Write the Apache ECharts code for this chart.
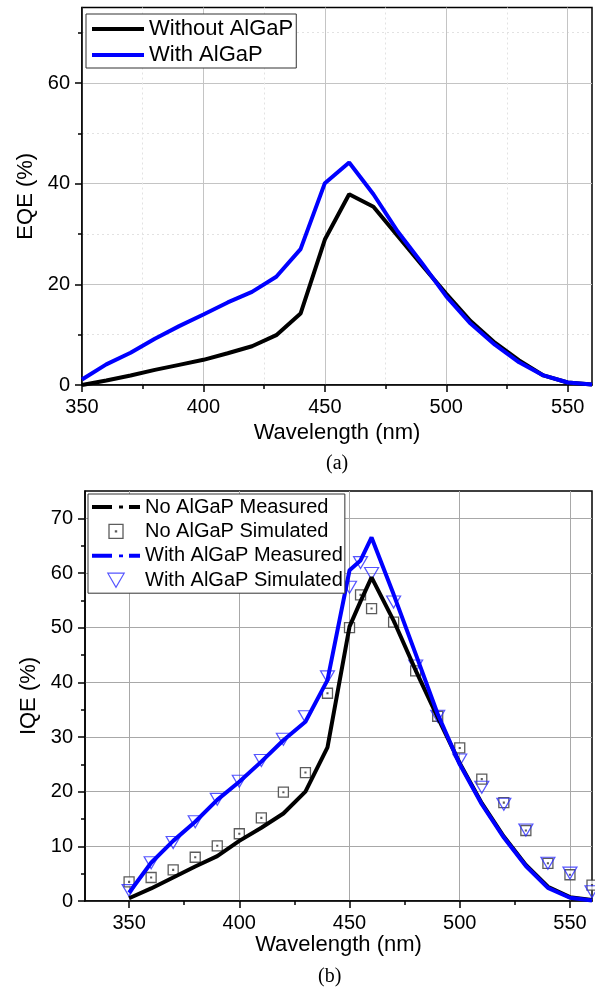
<!DOCTYPE html>
<html>
<head>
<meta charset="utf-8">
<script src="https://cdn.jsdelivr.net/npm/echarts@6/dist/echarts.min.js"></script>
<style>
html,body{margin:0;padding:0;background:#fff;}
#chart{width:595px;height:998px;}
</style>
</head>
<body>
<div id="chart"></div>
<script>
// ---- (a) EQE data ----
const eqeWl = [350,360,370,380,390,400,410,420,430,440,450,460,470,480,490,500,510,520,530,540,550,560];
const eqeWithout = [0,0.9,1.9,3.0,4.0,5.0,6.3,7.7,9.9,14.2,28.9,37.9,35.4,29.6,23.8,18.1,12.7,8.4,4.9,1.9,0.5,0.1];
const eqeWith = [1.1,4.1,6.4,9.2,11.7,14.0,16.4,18.5,21.5,27.0,40.1,44.2,37.9,30.5,24.2,17.6,12.2,8.0,4.5,1.9,0.5,0.1];
const eqeXTicks = [350,400,450,500,550];
const eqeXMinor = [375,425,475,525];
const eqeYTicks = [0,20,40,60];
const eqeYMinor = [10,30,50,70];

// ---- (b) IQE data ----
const iqeWl = [350,360,370,380,390,400,410,420,430,440,450,455,460,470,480,490,500,510,520,530,540,550,560];
const iqeNoMeas = [0.5,2.3,4.3,6.3,8.2,11.0,13.4,16.0,20.0,28.1,50.2,54.8,59.2,51.3,42.2,33.6,25.2,17.9,11.8,6.6,2.6,0.7,0.2];
const iqeNoSim = [3.5,4.3,5.7,8.0,10.1,12.3,15.2,19.9,23.5,38.0,50.0,56.0,53.5,51.0,42.1,33.8,28.0,22.3,18.0,12.9,6.9,4.8,2.9];
const iqeWithMeas = [1.5,7.0,11.0,14.5,18.5,21.8,25.5,29.4,32.8,40.4,60.5,62.3,66.5,56.1,45.2,34.2,25.0,17.7,11.6,6.4,2.4,0.6,0.1];
const iqeWithSim = [1.9,7.0,10.7,14.5,18.6,21.9,25.7,29.6,33.7,41.0,57.4,61.9,59.9,54.7,43.0,33.8,25.8,20.8,17.7,13.0,6.9,5.1,1.7];
const iqeXTicks = [350,400,450,500,550];
const iqeXMinor = [375,425,475,525];
const iqeYTicks = [0,10,20,30,40,50,60,70];
const iqeYMinor = [5,15,25,35,45,55,65];

const FONT = 'Liberation Sans, Arial, sans-serif';
const pair = (xs, ys) => xs.map((x, i) => [x, ys[i]]);

const squarePath = 'path://M0,0H10V10H0Z M4.6,4.6H5.4V5.4H4.6Z';
const triPath = 'path://M0,0H14L7,12Z';
const dashDot = 'path://M0,0H20V4H0Z M27,0.6H31V3.4H27Z M37,0H48V4H37Z';

function mainAxis(gridIndex, min, max, interval, ticks, extra) {
  return Object.assign({
    type: 'value', gridIndex, min, max, interval,
    axisLine: {show: true, onZero: false, lineStyle: {color: '#000', width: 1.5}},
    axisTick: {show: true, inside: false, length: 7, customValues: ticks, lineStyle: {color: '#000', width: 1.5}},
    axisLabel: {show: true, customValues: ticks, color: '#000', fontSize: 20, fontFamily: FONT, margin: 12},
    splitLine: {show: true, lineStyle: {color: '#c4c4c4', width: 1}},
    nameLocation: 'middle',
    nameTextStyle: {color: '#000', fontSize: 22, fontFamily: FONT}
  }, extra || {});
}
function minorAxis(gridIndex, min, max, interval, ticks, position, split) {
  return {
    type: 'value', gridIndex, min, max, interval, position,
    axisLine: {show: false, onZero: false},
    axisTick: {show: true, inside: false, length: 4, customValues: ticks, lineStyle: {color: '#000', width: 1.5}},
    axisLabel: {show: false},
    splitLine: split ? {show: true, lineStyle: {color: '#e2e2e2', width: 1, type: [2, 3]}} : {show: false}
  };
}

const option = {
  animation: false,
  backgroundColor: '#fff',
  textStyle: {fontFamily: FONT},
  grid: [
    {left: 82, top: 7.5, width: 510, height: 377.5, show: true, borderColor: '#000', borderWidth: 1.5, backgroundColor: 'transparent'},
    {left: 85, top: 491, width: 507, height: 410, show: true, borderColor: '#000', borderWidth: 1.5, backgroundColor: 'transparent'}
  ],
  xAxis: [
    mainAxis(0, 350, 560, 50, eqeXTicks, {position: 'bottom', name: 'Wavelength (nm)', nameGap: 37}),
    minorAxis(0, 350, 560, 25, eqeXMinor, 'bottom', true),
    mainAxis(1, 330, 560, 10, iqeXTicks, {position: 'bottom', name: 'Wavelength (nm)', nameGap: 33, splitLine: {show: true, lineStyle: {color: '#a8a8a8', width: 1}}}),
    minorAxis(1, 330, 560, 10, iqeXMinor, 'bottom', false)
  ],
  yAxis: [
    mainAxis(0, 0, 75, 20, eqeYTicks, {position: 'left', name: 'EQE (%)', nameGap: 38}),
    minorAxis(0, 0, 75, 10, eqeYMinor, 'left', true),
    mainAxis(1, 0, 75, 10, iqeYTicks, {position: 'left', name: 'IQE (%)', nameGap: 40, splitLine: {show: true, lineStyle: {color: '#a8a8a8', width: 1}}}),
    minorAxis(1, 0, 75, 5, iqeYMinor, 'left', false)
  ],
  legend: [
    {
      left: 86, top: 14, orient: 'vertical',
      itemWidth: 52, itemHeight: 4, itemGap: 4,
      padding: [4, 3, 2, 6],
      borderColor: '#333', borderWidth: 1, backgroundColor: '#fff',
      selectedMode: false,
      textStyle: {color: '#000', fontSize: 22, lineHeight: 22, fontFamily: FONT},
      data: [
        {name: 'Without AlGaP', icon: 'rect', itemStyle: {color: '#000', borderWidth: 0}},
        {name: 'With AlGaP', icon: 'rect', itemStyle: {color: '#0000ff', borderWidth: 0}}
      ]
    },
    {
      left: 88, top: 494, orient: 'vertical',
      itemWidth: 48, itemHeight: 14, itemGap: 4.4,
      padding: [3, 2, 3, 4],
      borderColor: '#333', borderWidth: 1, backgroundColor: '#fff',
      selectedMode: false,
      textStyle: {color: '#000', fontSize: 20, lineHeight: 20, fontFamily: FONT},
      data: [
        {name: 'No AlGaP Measured', icon: dashDot, itemStyle: {color: '#000', borderWidth: 0}},
        {name: 'No AlGaP Simulated', icon: squarePath, itemStyle: {color: '#fff', borderColor: '#333', borderWidth: 1.3}},
        {name: 'With AlGaP Measured', icon: dashDot, itemStyle: {color: '#0000ff', borderWidth: 0}},
        {name: 'With AlGaP Simulated', icon: triPath, itemStyle: {color: 'rgba(0,0,0,0)', borderColor: '#2a2aff', borderWidth: 1.2}}
      ]
    }
  ],
  series: [
    {name: 'Without AlGaP', type: 'line', xAxisIndex: 0, yAxisIndex: 0, data: pair(eqeWl, eqeWithout),
     symbol: 'none', lineStyle: {color: '#000', width: 4}, itemStyle: {color: '#000'}},
    {name: 'With AlGaP', type: 'line', xAxisIndex: 0, yAxisIndex: 0, data: pair(eqeWl, eqeWith),
     symbol: 'none', lineStyle: {color: '#0000ff', width: 4}, itemStyle: {color: '#0000ff'}},
    {name: 'No AlGaP Measured', type: 'line', xAxisIndex: 2, yAxisIndex: 2, data: pair(iqeWl, iqeNoMeas),
     symbol: 'none', lineStyle: {color: '#000', width: 4}, itemStyle: {color: '#000'}},
    {name: 'With AlGaP Measured', type: 'line', xAxisIndex: 2, yAxisIndex: 2, data: pair(iqeWl, iqeWithMeas),
     symbol: 'none', lineStyle: {color: '#0000ff', width: 4}, itemStyle: {color: '#0000ff'}},
    {name: 'No AlGaP Simulated', type: 'scatter', xAxisIndex: 2, yAxisIndex: 2, data: pair(iqeWl, iqeNoSim),
     symbol: squarePath, symbolSize: 10, itemStyle: {color: '#fff', borderColor: '#333', borderWidth: 1.3}},
    {name: 'With AlGaP Simulated', type: 'scatter', xAxisIndex: 2, yAxisIndex: 2, data: pair(iqeWl, iqeWithSim),
     symbol: triPath, symbolSize: [14, 12], itemStyle: {color: 'rgba(0,0,0,0)', borderColor: '#2a2aff', borderWidth: 1.2}}
  ],
  graphic: [
    {type: 'text', left: 326, top: 454, style: {text: '(a)', fill: '#000', font: '20px "Liberation Serif", "Times New Roman", serif'}},
    {type: 'text', left: 318, top: 967, style: {text: '(b)', fill: '#000', font: '20px "Liberation Serif", "Times New Roman", serif'}}
  ]
};

const chart = echarts.init(document.getElementById('chart'), null, {renderer: 'canvas'});
chart.setOption(option);
</script>
</body>
</html>
